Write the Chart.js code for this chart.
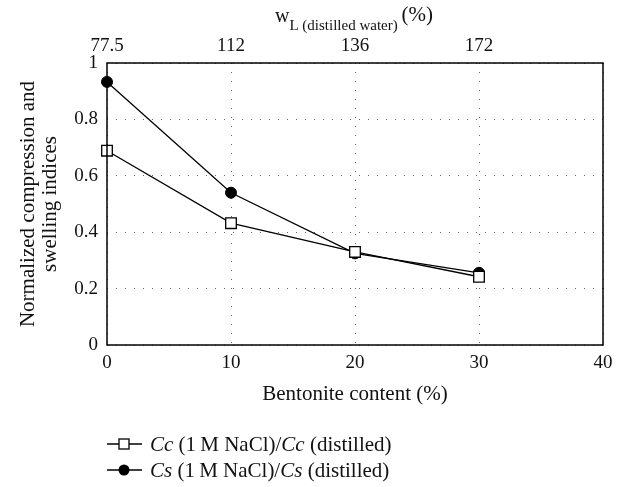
<!DOCTYPE html>
<html>
<head>
<meta charset="utf-8">
<script src="https://cdn.jsdelivr.net/npm/chart.js@4"></script>
<style>
  html, body { margin: 0; padding: 0; background: #fff; }
  #wrap { width: 621px; height: 487px; }
</style>
</head>
<body>
<div id="wrap"><canvas id="myChart" width="621" height="487"></canvas></div>
<script>
var bentonite = [0, 10, 20, 30];
var ccRatio = [0.689, 0.432, 0.33, 0.242];
var csRatio = [0.933, 0.54, 0.325, 0.256];
var liquidLimit = ['77.5', '112', '136', '172'];

var serif = "'Liberation Serif', 'Times New Roman', serif";

function points(ys) {
    return bentonite.map(function(x, i) { return { x: x, y: ys[i] }; });
}

// frame around plot area + top axis title + legend
var extras = {
    id: 'extras',
    afterDraw: function(chart) {
        var ctx = chart.ctx;
        var a = chart.chartArea;
        ctx.save();
        ctx.strokeStyle = '#000';
        ctx.lineWidth = 1.5;
        ctx.strokeRect(a.left, a.top, a.right - a.left, a.bottom - a.top);

        // top axis title: w_L (distilled water) (%)
        ctx.fillStyle = '#111';
        ctx.textBaseline = 'alphabetic';
        var x = 275;
        ctx.font = '20px ' + serif;
        ctx.fillText('w', x, 22);
        x += ctx.measureText('w').width;
        ctx.font = '15px ' + serif;
        ctx.fillText('L (distilled water)', x, 30);
        x += ctx.measureText('L (distilled water) ').width;
        ctx.font = '21px ' + serif;
        ctx.fillText('(%)', x, 21);

        // legend
        var rows = [
            { y: 444, dot: false, ratio: 'Cc' },
            { y: 470, dot: true, ratio: 'Cs' }
        ];
        rows.forEach(function(r) {
            ctx.strokeStyle = '#000';
            ctx.lineWidth = 1.3;
            ctx.beginPath();
            ctx.moveTo(107, r.y);
            ctx.lineTo(142, r.y);
            ctx.stroke();
            if (r.dot) {
                ctx.fillStyle = '#000';
                ctx.beginPath();
                ctx.arc(124, r.y, 5.5, 0, Math.PI * 2);
                ctx.fill();
            } else {
                ctx.fillStyle = '#fff';
                ctx.fillRect(119, r.y - 5, 10, 10);
                ctx.strokeRect(119, r.y - 5, 10, 10);
            }
            var parts = [
                [r.ratio, true], [' (1\u2009M NaCl)/', false],
                [r.ratio, true], [' (distilled)', false]
            ];
            var tx = 150;
            ctx.fillStyle = '#111';
            ctx.textBaseline = 'middle';
            parts.forEach(function(p) {
                ctx.font = (p[1] ? 'italic ' : '') + '21px ' + serif;
                ctx.fillText(p[0], tx, r.y + 1);
                tx += ctx.measureText(p[0]).width;
            });
        });
        ctx.restore();
    }
};

var config = {
    type: 'line',
    data: {
        datasets: [{
            label: 'Cc (1 M NaCl)/Cc (distilled)',
            data: points(ccRatio),
            clip: false,
            borderColor: '#000',
            borderWidth: 1.3,
            pointStyle: 'rect',
            pointRadius: 7.5,
            pointBackgroundColor: '#fff',
            pointBorderColor: '#000',
            pointBorderWidth: 1.3
        }, {
            label: 'Cs (1 M NaCl)/Cs (distilled)',
            data: points(csRatio),
            clip: false,
            borderColor: '#000',
            borderWidth: 1.3,
            pointStyle: 'circle',
            pointRadius: 5.5,
            pointBackgroundColor: '#000',
            pointBorderColor: '#000',
            pointBorderWidth: 1
        }]
    },
    options: {
        responsive: false,
        animation: false,
        layout: { padding: { left: 0, top: 0, right: 18, bottom: 80 } },
        plugins: {
            legend: { display: false },
            tooltip: { enabled: false }
        },
        scales: {
            x: {
                type: 'linear',
                position: 'bottom',
                min: 0,
                max: 40,
                ticks: { stepSize: 10, padding: 7, color: '#111', font: { family: serif, size: 19 } },
                grid: { color: '#666', drawTicks: false, lineWidth: 1 },
                border: { display: false, dash: [1, 8] },
                title: {
                    display: true,
                    text: 'Bentonite content (%)',
                    color: '#111',
                    font: { family: serif, size: 21 },
                    padding: { top: 6, bottom: 0 }
                },
                afterFit: function(scale) { scale.height = 62; }
            },
            x2: {
                type: 'linear',
                position: 'top',
                min: 0,
                max: 40,
                ticks: {
                    stepSize: 10,
                    padding: 6,
                    color: '#111',
                    font: { family: serif, size: 19 },
                    callback: function(v) {
                        var i = bentonite.indexOf(v);
                        return i >= 0 ? liquidLimit[i] : '';
                    }
                },
                grid: { display: false, drawTicks: false },
                border: { display: false },
                afterFit: function(scale) { scale.height = 63; }
            },
            y: {
                min: 0,
                max: 1,
                ticks: {
                    stepSize: 0.2,
                    padding: 9,
                    color: '#111',
                    font: { family: serif, size: 19 },
                    callback: function(v) { return String(Math.round(v * 10) / 10); }
                },
                grid: { color: '#666', drawTicks: false, lineWidth: 1 },
                border: { display: false, dash: [1, 8] },
                title: {
                    display: true,
                    text: ['Normalized compression and', 'swelling indices'],
                    color: '#111',
                    font: { family: serif, size: 21, lineHeight: 1.05 },
                    padding: { top: 17, bottom: 0 }
                },
                afterFit: function(scale) { scale.width = 107; }
            }
        }
    },
    plugins: [extras]
};

window.onload = function() {
    var ctx = document.getElementById('myChart').getContext('2d');
    window.myLine = new Chart(ctx, config);
};
</script>
</body>
</html>
